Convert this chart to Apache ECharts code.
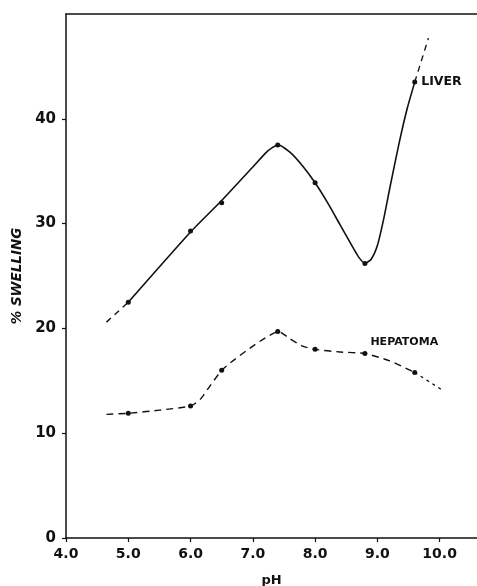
<!DOCTYPE html>
<html><head><meta charset="utf-8">
<script src="https://cdn.jsdelivr.net/npm/echarts@6/dist/echarts.min.js"></script>
<style>html,body{margin:0;padding:0;background:#fff}#c{width:477px;height:586px}</style>
</head><body><div id="c"></div>
<script>
const liverPH = [5.0, 6.0, 6.5, 7.4, 8.0, 8.8, 9.6];
const liverSwell = [22.5, 29.3, 32.0, 37.5, 33.9, 26.2, 43.5];
const hepPH = [5.0, 6.0, 6.5, 7.4, 8.0, 8.8, 9.6];
const hepSwell = [11.9, 12.6, 16.0, 19.7, 18.0, 17.6, 15.8];
// Drawn curves
const liverCurvePH = [5.0, 6.0, 6.5, 7.0, 7.2, 7.3, 7.41, 7.6, 7.8, 8.0, 8.2, 8.4, 8.6, 8.7, 8.8, 8.9, 9.0, 9.1, 9.2, 9.35, 9.48, 9.6];
const liverCurveSwell = [22.5, 29.2, 32.2, 35.4, 36.7, 37.2, 37.5, 36.8, 35.5, 33.9, 32.0, 29.9, 27.8, 26.8, 26.2, 26.6, 27.9, 30.4, 33.4, 37.7, 41.0, 43.5];
const liverLeftPH = [4.65, 5.0];
const liverLeftSwell = [20.6, 22.5];
const liverRightPH = [9.6, 9.82];
const liverRightSwell = [43.5, 47.7];
const hepCurvePH = [4.65, 5.0, 5.5, 6.0, 6.15, 6.3, 6.5, 6.7, 6.95, 7.2, 7.41, 7.6, 7.8, 8.0, 8.4, 8.8, 9.2, 9.6];
const hepCurveSwell = [11.8, 11.9, 12.2, 12.6, 13.2, 14.4, 16.0, 17.0, 18.1, 19.1, 19.7, 19.0, 18.3, 18.0, 17.75, 17.6, 16.9, 15.8];
const hepTailPH = [9.6, 10.02];
const hepTailSwell = [15.8, 14.2];
const xTicks = [4.0, 5.0, 6.0, 7.0, 8.0, 9.0, 10.0];
const yTicks = [0, 10, 20, 30, 40];

const ink = '#111';
const zip = (xs, ys) => xs.map((x, i) => [x, ys[i]]);
const chart = echarts.init(document.getElementById('c'));
const liverMarks = liverPH.map((x, i) => {
  const d = { value: [x, liverSwell[i]] };
  if (i === liverPH.length - 1) {
    d.label = { show: true, position: 'right', distance: 4, formatter: 'LIVER', color: ink,
      fontFamily: 'DejaVu Sans', fontWeight: 'bold', fontSize: 12.5 };
  }
  return d;
});
const hepMarks = hepPH.map((x, i) => {
  const d = { value: [x, hepSwell[i]] };
  if (x === 8.8) {
    d.label = { show: true, position: 'right', distance: 3, offset: [0, -11], formatter: 'HEPATOMA', color: ink,
      fontFamily: 'DejaVu Sans', fontWeight: 'bold', fontSize: 11 };
  }
  return d;
});
chart.setOption({
  animation: false,
  grid: { left: 66, right: 0, top: 14, bottom: 48, containLabel: false, outerBoundsMode: 'none' },
  xAxis: [{
    type: 'value', min: 4, max: 10.6, interval: 1,
    name: 'pH', nameLocation: 'middle', nameGap: 36,
    nameTextStyle: { color: ink, fontFamily: 'DejaVu Sans', fontWeight: 'bold', fontSize: 13 },
    axisLine: { show: true, lineStyle: { color: ink, width: 1.5 } },
    axisTick: { show: true, length: 4, lineStyle: { color: ink, width: 1.2 }, customValues: xTicks },
    axisLabel: { color: ink, fontFamily: 'DejaVu Sans', fontWeight: 'bold', fontSize: 14, margin: 9,
      customValues: xTicks, formatter: v => v.toFixed(1) },
    splitLine: { show: false }
  }, {
    type: 'value', position: 'top', min: 4, max: 10.6,
    axisLine: { show: true, onZero: false, lineStyle: { color: ink, width: 1.5 } },
    axisTick: { show: false }, axisLabel: { show: false }, splitLine: { show: false }
  }],
  yAxis: {
    type: 'value', min: 0, max: 50, interval: 10,
    name: '% SWELLING', nameLocation: 'middle', nameGap: 42, nameRotate: 90,
    nameTextStyle: { color: ink, fontFamily: 'DejaVu Sans', fontWeight: 'bold', fontStyle: 'italic', fontSize: 13.5 },
    axisLine: { show: true, lineStyle: { color: ink, width: 1.5 } },
    axisTick: { show: true, length: 4, lineStyle: { color: ink, width: 1.2 }, customValues: yTicks },
    axisLabel: { color: ink, fontFamily: 'DejaVu Sans', fontWeight: 'bold', fontSize: 15, margin: 10,
      customValues: yTicks },
    splitLine: { show: false }
  },
  series: [
    { type: 'line', data: zip(liverCurvePH, liverCurveSwell), smooth: 0.2, symbol: 'none',
      lineStyle: { color: ink, width: 1.6 } },
    { type: 'line', data: zip(liverLeftPH, liverLeftSwell), symbol: 'none', lineStyle: { color: ink, width: 1.4, type: [6, 5] } },
    { type: 'line', data: zip(liverRightPH, liverRightSwell), symbol: 'none', lineStyle: { color: ink, width: 1.4, type: [6, 5] } },
    { type: 'line', data: zip(hepCurvePH, hepCurveSwell), smooth: 0.2, symbol: 'none',
      lineStyle: { color: ink, width: 1.4, type: [7, 5] } },
    { type: 'line', data: zip(hepTailPH, hepTailSwell), symbol: 'none', lineStyle: { color: ink, width: 1.3, type: [3, 4] } },
    { type: 'scatter', data: liverMarks, symbol: 'circle', symbolSize: 5, itemStyle: { color: ink, opacity: 1 }, z: 5 },
    { type: 'scatter', data: hepMarks, symbol: 'circle', symbolSize: 5, itemStyle: { color: ink, opacity: 1 }, z: 5 }
  ]
});
</script></body></html>
